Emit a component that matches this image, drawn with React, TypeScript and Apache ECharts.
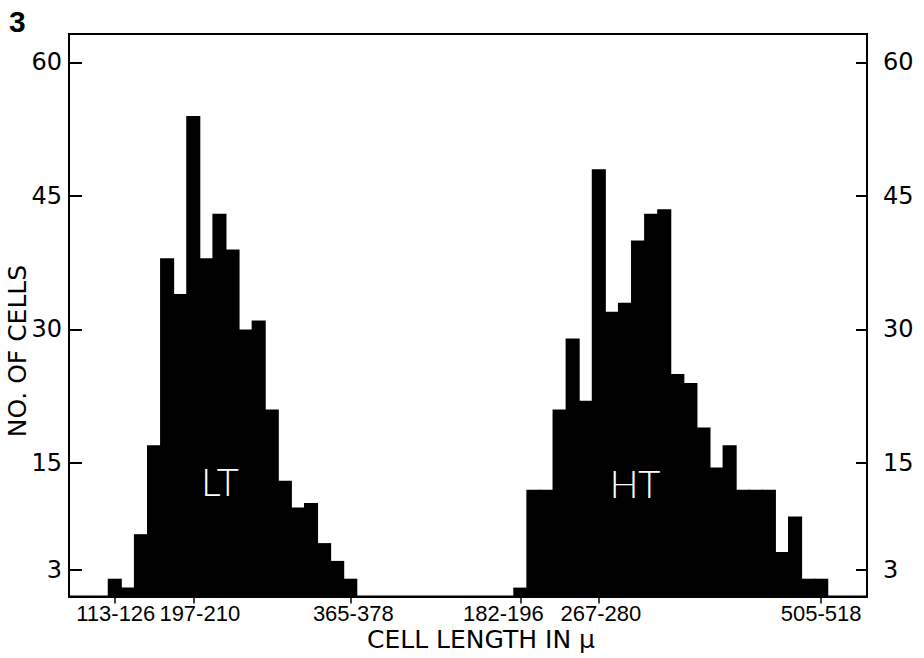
import React, { useEffect, useRef } from 'react';
import * as echarts from 'echarts';

// LT group: bins of cell length (μ) and number of cells
const ltBins = [
  '113-126', '127-140', '141-154', '155-168', '169-182', '183-196', '197-210',
  '211-224', '225-238', '239-252', '253-266', '267-280', '281-294', '295-308',
  '309-322', '323-336', '337-350', '351-364', '365-378',
];
const ltCounts = [2, 1, 7, 17, 38, 34, 54, 38, 43, 39, 30, 31, 21, 13, 10, 10.5, 6, 4, 2];

// HT group
const htBins = [
  '182-196', '197-210', '211-224', '225-238', '239-252', '253-266', '267-280',
  '281-294', '295-308', '309-322', '323-336', '337-350', '351-364', '365-378',
  '379-392', '393-406', '407-420', '421-434', '435-448', '449-462', '463-476',
  '477-490', '491-504', '505-518',
];
const htCounts = [1, 12, 12, 21, 29, 22, 48, 32, 33, 40, 43, 43.5, 25, 24, 19, 14.5, 17, 12, 12, 12, 5, 9, 2, 2];

// Tick labels shown on the axes
const ltTickLabels = ['113-126', '197-210', '365-378'];
const htTickLabels = ['182-196', '267-280', '505-518'];
const yTickValues = [3, 15, 30, 45, 60];

const PAD_SLOTS = 3;
const GAP_SLOTS = 12;

export default function App() {
  const ref = useRef<HTMLDivElement>(null);

  useEffect(() => {
    document.body.style.margin = '0';
    const chart = echarts.init(ref.current!, null, { renderer: 'svg' });

    const cats: string[] = [];
    const ltData: number[][] = [];
    const htData: number[][] = [];
    const pad = (key: string, n: number) => {
      for (let i = 0; i < n; i++) cats.push(`${key}${i}`);
    };
    pad('padL', PAD_SLOTS);
    ltBins.forEach((b, i) => {
      ltData.push([cats.length, ltCounts[i]]);
      cats.push('LT ' + b);
    });
    pad('gap', GAP_SLOTS);
    htBins.forEach((b, i) => {
      htData.push([cats.length, htCounts[i]]);
      cats.push('HT ' + b);
    });
    pad('padR', PAD_SLOTS);

    const shownList = [
      ...ltTickLabels.map((l) => 'LT ' + l),
      ...htTickLabels.map((l) => 'HT ' + l),
    ];
    const shown = new Set<string>(shownList);

    // horizontal nudges of individual tick labels (px), as lettered in the figure
    const labelShift = [1, 6.5, 3, -17, 2, 0];
    const xFont = { fontFamily: 'Liberation Sans', fontSize: 22, lineHeight: 22, color: '#000' };
    const rich: Record<string, any> = {};
    labelShift.forEach((d, i) => {
      rich['k' + i] = {
        ...xFont,
        padding: d >= 0 ? [0, 0, 0, 2 * d] : [0, -2 * d, 0, 0],
      };
    });

    const yAxisBase = (position: 'left' | 'right', tickLen: number, margin: number) => ({
      type: 'value',
      position,
      min: 0,
      max: 63.2,
      splitLine: { show: false },
      axisLine: { show: true, lineStyle: { color: '#000', width: 2 } },
      axisTick: {
        show: true,
        inside: true,
        length: tickLen,
        customValues: yTickValues,
        lineStyle: { color: '#000', width: 2 },
      },
      axisLabel: {
        show: true,
        customValues: yTickValues,
        margin,
        align: position === 'left' ? 'right' : 'left',
        verticalAlign: 'middle',
        color: '#000',
        fontFamily: 'DejaVu Sans',
        fontSize: 24,
      },
    });

    // histogram columns: each bin spans its full category band (slight overlap hides seams)
    const renderBin = (params: any, api: any) => {
      const x = api.value(0);
      const y = api.value(1);
      const top = api.coord([x, y]);
      const base = api.coord([x, 0]);
      const w = api.size([1, 0])[0];
      return {
        type: 'rect',
        shape: { x: top[0] - w / 2 - 0.5, y: top[1], width: w + 1, height: base[1] - top[1] },
        style: { fill: '#000' },
      };
    };

    chart.setOption({
      animation: false,
      backgroundColor: '#fff',
      grid: {
        left: 69,
        right: 57,
        top: 34,
        bottom: 61.5,
        show: true,
        borderColor: '#000',
        borderWidth: 2,
        backgroundColor: 'transparent',
        outerBoundsMode: 'none',
      },
      xAxis: {
        type: 'category',
        data: cats,
        boundaryGap: true,
        axisLine: { show: true, lineStyle: { color: '#000', width: 2 } },
        axisTick: {
          show: true,
          alignWithLabel: true,
          length: 7,
          interval: (index: number, value: string) => shown.has(value),
          lineStyle: { color: '#000', width: 1.5 },
        },
        axisLabel: {
          interval: 0,
          margin: 6,
          ...xFont,
          rich,
          formatter: (value: string) => {
            const k = shownList.indexOf(value);
            return k >= 0 ? `{k${k}|${value.slice(3)}}` : '';
          },
        },
        splitLine: { show: false },
      },
      yAxis: [yAxisBase('left', 13, 7), yAxisBase('right', 11, 16)],
      series: [
        { name: 'LT', type: 'custom', renderItem: renderBin, encode: { x: 0, y: 1 }, data: ltData, z: 1 },
        { name: 'HT', type: 'custom', renderItem: renderBin, encode: { x: 0, y: 1 }, data: htData, z: 1 },
      ],
      graphic: [
        {
          type: 'text', x: 9, y: 21,
          style: { text: '3', fill: '#000', font: 'bold 30px "Liberation Sans"', textAlign: 'left', textVerticalAlign: 'middle' },
        },
        {
          type: 'text', x: 17, y: 351, rotation: Math.PI / 2,
          style: { text: 'NO. OF CELLS', fill: '#000', font: '25px "DejaVu Sans"', textAlign: 'center', textVerticalAlign: 'middle' },
        },
        {
          type: 'text', x: 481, y: 639,
          style: { text: 'CELL LENGTH IN μ', fill: '#000', font: '25px "DejaVu Sans"', lineHeight: 25, textAlign: 'center', textVerticalAlign: 'middle' },
        },
        {
          type: 'text', x: 220, y: 481, z: 100,
          style: { text: 'LT', fill: '#fff', font: '300 38px Lato', textAlign: 'center', textVerticalAlign: 'middle' },
        },
        {
          type: 'text', x: 635, y: 483, z: 100,
          style: { text: 'HT', fill: '#fff', font: '300 38px Lato', textAlign: 'center', textVerticalAlign: 'middle' },
        },
      ],
    });

    return () => chart.dispose();
  }, []);

  return <div ref={ref} style={{ width: 924, height: 658 }} />;
}
